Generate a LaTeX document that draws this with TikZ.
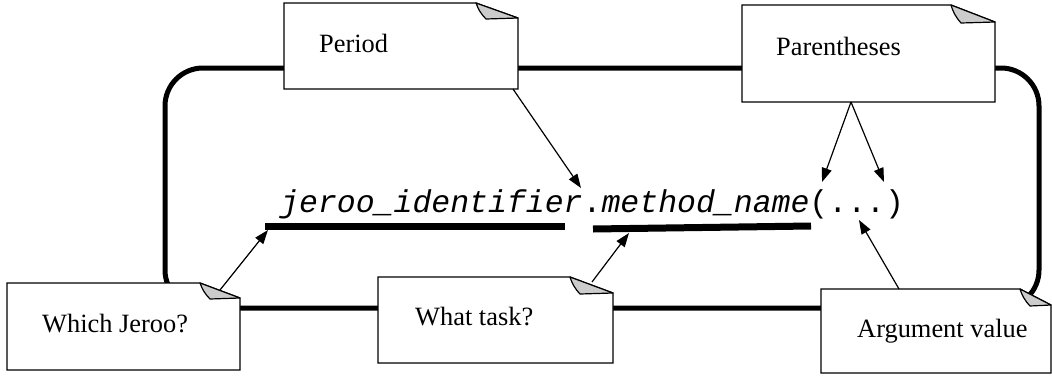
\documentclass[tikz,border=0pt]{standalone}
\usepackage{fontspec}
\setmainfont{Liberation Serif}
\setmonofont{Liberation Mono}
\usetikzlibrary{arrows.meta}
\tikzset{
  loopline/.style={line width=5pt, rounded corners=38pt},
  uline/.style={line width=7pt, line cap=butt},
  conn/.style={line width=1.2pt, -{Triangle[length=14pt,width=10pt]}},
  boxarea/.style={rectangle, draw=none, inner sep=0pt, outer sep=0pt},
  boxline/.style={draw=black, fill=white, line width=1.2pt, line join=miter},
  foldtri/.style={draw=black, fill=gray!40, line width=1.2pt, line join=round},
  lbl/.style={font=\fontsize{26.4}{30}\selectfont, inner sep=0pt, anchor=base west},
  codetext/.style={font=\fontsize{31.5}{36}\selectfont\ttfamily, inner sep=0pt, anchor=base west},
}
% name, x1, y1, x2, y2, fold width, fold height
\newcommand\FoldBox[7]{%
  \node[boxarea, minimum width=#4pt-#2pt, minimum height=#5pt-#3pt] (#1) at ({(#2+#4)/2},{(#3+#5)/2}) {};
  \draw[boxline] (#1.north west) -- ([xshift=-#6pt]#1.north east) -- ([yshift=-#7pt]#1.north east) -- (#1.south east) -- (#1.south west) -- cycle;
  \draw[foldtri] ([xshift=-#6pt]#1.north east) to[bend right=12] ([xshift=-#6pt+10pt, yshift=-#7pt-1pt]#1.north east) -- ([yshift=-#7pt]#1.north east) -- cycle;
}
\begin{document}
\begin{tikzpicture}[x=1pt, y=-1pt]
\useasboundingbox (0,0) rectangle (1052,375);

% big rounded loop
\draw[loopline] (165,308) -- (165,68) -- (1039,68) -- (1039,308) -- cycle;

% code line and underlines
\node[codetext] (code) at (280,212) {\textit{jeroo\_identifier}.\textit{method\_name}(...)};
\coordinate (u1a) at (265,226);
\coordinate (u1b) at (565,226);
\coordinate (u2a) at (593,229);
\coordinate (u2b) at (811,226);
\draw[uline] (u1a) -- (u1b);
\draw[uline] (u2a) -- (u2b);

% arrow targets
\coordinate (tWhich) at (268,230);
\coordinate (tPeriod) at (581,188);
\coordinate (tTask) at (629,233);
\coordinate (tParA) at (822,182);
\coordinate (tParB) at (884,182);
\coordinate (tArg) at (859,220);

% boxes
\FoldBox{period}{284}{3}{518}{89}{42}{15}
\FoldBox{paren}{742}{5}{995}{102}{44}{17}
\FoldBox{which}{7}{283}{240}{370}{40}{15}
\FoldBox{task}{378}{277}{613}{363}{43}{16}
\FoldBox{arg}{821}{289}{1051}{373}{31}{16}

% labels
\node[lbl] (periodT) at (319,52) {Period};
\node[lbl] (parenT) at (776,55) {Parentheses};
\node[lbl] (whichT) at (42,332) {Which Jeroo?};
\node[lbl] (taskT) at (415,325) {What task?};
\node[lbl] (argT) at (857,337) {Argument value};

% connectors
\draw[conn] ([xshift=-5pt]period.south east) -- (tPeriod);
\draw[conn] ([xshift=-17.5pt]paren.south) -- (tParA);
\draw[conn] ([xshift=-17.5pt]paren.south) -- (tParB);
\draw[conn] ([xshift=-20pt, yshift=-7pt]which.north east) -- (tWhich);
\draw[conn] ([xshift=-21pt, yshift=-5pt]task.north east) -- (tTask);
\draw[conn] ([xshift=-37pt]arg.north) -- (tArg);
\end{tikzpicture}
\end{document}
